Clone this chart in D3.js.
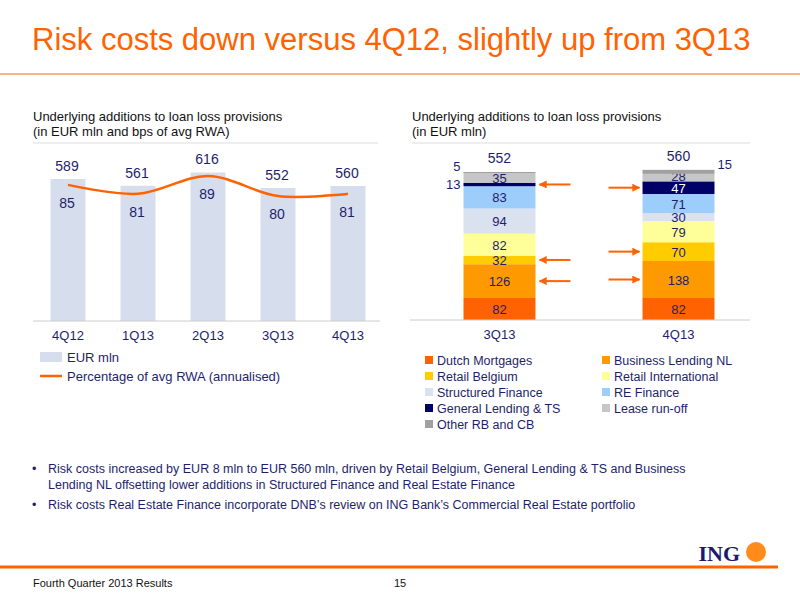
<!DOCTYPE html>
<html><head><meta charset="utf-8">
<script src="https://cdn.jsdelivr.net/npm/d3@7"></script>
<style>body{margin:0;background:#fff}svg{font-family:"Liberation Sans",Arial,sans-serif}</style>
</head><body><div id="chart"></div>
<script>
const quarters = ["4Q12", "1Q13", "2Q13", "3Q13", "4Q13"];
const eurMln = [589, 561, 616, 552, 560];
const bps = [85, 81, 89, 80, 81];

const periods = ["3Q13", "4Q13"];
const segments = ["Dutch Mortgages", "Business Lending NL", "Retail Belgium", "Retail International",
  "Structured Finance", "RE Finance", "General Lending & TS", "Lease run-off", "Other RB and CB"];
const seg3Q13 = [82, 126, 32, 82, 94, 83, 13, 35, 5];
const seg4Q13 = [82, 138, 70, 79, 30, 71, 47, 28, 15];
const totals = [552, 560];
const segColors = ["#ff6200", "#ff9900", "#ffcc00", "#ffff99", "#dae1ef", "#9dcdfa", "#000066", "#c6c6c6", "#a0a0a0"];
const arrowSegs = [6, 2, 1];

const svg = d3.select("#chart").append("svg").attr("width", 800).attr("height", 600);
const orange = "#ff6200", navy = "#1e1e6e";

svg.append("text").attr("x", 32).attr("y", 50).attr("fill", orange)
  .style("font-size", "31px").text("Risk costs down versus 4Q12, slightly up from 3Q13");
svg.append("line").attr("x1", 0).attr("x2", 800).attr("y1", 74).attr("y2", 74)
  .attr("stroke", orange).attr("stroke-width", 1);

// panel titles
[[33, "Underlying additions to loan loss provisions", "(in EUR mln and bps of avg RWA)"],
 [412, "Underlying additions to loan loss provisions", "(in EUR mln)"]].forEach(([x, a, b]) => {
  const t = svg.append("text").attr("x", x).attr("y", 121).attr("fill", "#111").style("font-size", "13px");
  t.append("tspan").attr("x", x).text(a);
  t.append("tspan").attr("x", x).attr("dy", 15).text(b);
});
svg.append("line").attr("x1", 33).attr("x2", 378).attr("y1", 143).attr("y2", 143).attr("stroke", "#ddd");
svg.append("line").attr("x1", 412).attr("x2", 750).attr("y1", 143).attr("y2", 143).attr("stroke", "#ddd");

// left chart
const xL = d3.scaleBand().domain(quarters).range([33, 383]).paddingInner(0.5).paddingOuter(0.25);
const yL = d3.scaleLinear().domain([0, 589]).range([321, 179]);
const yB = d3.scaleLinear().domain([80, 89]).range([196, 176]);
const gl = svg.append("g");
gl.selectAll("rect").data(quarters).join("rect")
  .attr("x", d => xL(d)).attr("width", xL.bandwidth())
  .attr("y", (d, i) => yL(eurMln[i])).attr("height", (d, i) => yL(0) - yL(eurMln[i]))
  .attr("fill", "#d6deee");
gl.selectAll(".tv").data(quarters).join("text")
  .attr("x", d => xL(d) + xL.bandwidth() / 2 - 1).attr("y", (d, i) => yL(eurMln[i]) - 8)
  .attr("text-anchor", "middle").attr("fill", navy).style("font-size", "14px").text((d, i) => eurMln[i]);
const line = d3.line().x((d, i) => xL(quarters[i]) + xL.bandwidth() / 2).y(d => yB(d)).curve(d3.curveCatmullRom);
gl.append("path").attr("d", line(bps)).attr("fill", "none").attr("stroke", orange).attr("stroke-width", 2.5);
gl.selectAll(".bv").data(bps).join("text")
  .attr("x", (d, i) => xL(quarters[i]) + xL.bandwidth() / 2 - 1).attr("y", d => yB(d) + 23)
  .attr("text-anchor", "middle").attr("fill", navy).style("font-size", "14px").text(d => d);
gl.append("g").attr("transform", "translate(0,321)")
  .call(d3.axisBottom(xL).tickSize(0).tickPadding(10))
  .call(g => g.select(".domain").attr("stroke", "#ccc").attr("d", "M33,0H380"))
  .call(g => g.selectAll("text").attr("fill", navy).style("font-size", "13px").attr("font-family", "Liberation Sans, Arial"));
svg.append("rect").attr("x", 40).attr("y", 352).attr("width", 22).attr("height", 10).attr("fill", "#d6deee");
svg.append("text").attr("x", 67).attr("y", 362).attr("fill", navy).style("font-size", "13px").text("EUR mln");
svg.append("line").attr("x1", 40).attr("x2", 62).attr("y1", 376).attr("y2", 376).attr("stroke", orange).attr("stroke-width", 2.5);
svg.append("text").attr("x", 67).attr("y", 381).attr("fill", navy).style("font-size", "13px").text("Percentage of avg RWA (annualised)");

// right chart
const xR = d3.scaleBand().domain(periods).range([420, 758]).paddingInner(0.598).paddingOuter(0.243);
const yR = d3.scaleLinear().domain([0, 552]).range([320, 172]);
const gr = svg.append("g");
const data = [seg3Q13, seg4Q13];
data.forEach((vals, p) => {
  let acc = 0;
  const x0 = xR(periods[p]), w = xR.bandwidth();
  vals.forEach((v, s) => {
    const y0 = yR(acc + v), h = yR(acc) - yR(acc + v);
    gr.append("rect").attr("x", x0).attr("y", y0).attr("width", w).attr("height", h).attr("fill", segColors[s]);
    if (v >= 20) {
      const lift = v < 30 ? 2 : 0;
      gr.append("text").attr("x", x0 + w / 2).attr("y", y0 + h / 2 + 5 - lift).attr("text-anchor", "middle")
        .attr("fill", s === 6 ? "#fff" : navy).style("font-size", "13px").text(v);
    } else if (p === 0) {
      gr.append("text").attr("x", x0 - 3).attr("y", s === 8 ? y0 - 1 : y0 + h / 2 + 5)
        .attr("text-anchor", "end").attr("fill", navy).style("font-size", "13px").text(v);
    } else {
      gr.append("text").attr("x", x0 + w + 3).attr("y", y0 - 1)
        .attr("text-anchor", "start").attr("fill", navy).style("font-size", "13px").text(v);
    }
    acc += v;
  });
  gr.append("text").attr("x", x0 + w / 2).attr("y", yR(totals[p]) - 9).attr("text-anchor", "middle")
    .attr("fill", navy).style("font-size", "14px").text(totals[p]);
});
// arrows
svg.append("defs").append("marker").attr("id", "ah").attr("viewBox", "0 0 10 10").attr("refX", 9).attr("refY", 5)
  .attr("markerWidth", 4).attr("markerHeight", 4).attr("orient", "auto")
  .append("path").attr("d", "M0,0L10,5L0,10z").attr("fill", orange);
arrowSegs.forEach(s => {
  data.forEach((vals, p) => {
    const yy = yR(d3.sum(vals.slice(0, s)) + vals[s] / 2);
    const x0 = xR(periods[p]), w = xR.bandwidth();
    const pts = p === 0 ? [x0 + w + 35, x0 + w + 4] : [x0 - 34, x0 - 3];
    gr.append("line").attr("x1", pts[0]).attr("x2", pts[1]).attr("y1", yy).attr("y2", yy)
      .attr("stroke", orange).attr("stroke-width", 2).attr("marker-end", "url(#ah)");
  });
});
gr.append("g").attr("transform", "translate(0,320)")
  .call(d3.axisBottom(xR).tickSize(0).tickPadding(10))
  .call(g => g.select(".domain").attr("stroke", "#ccc").attr("d", "M410,0H750"))
  .call(g => g.selectAll("text").attr("fill", navy).style("font-size", "13px").attr("font-family", "Liberation Sans, Arial"));
segments.forEach((name, i) => {
  const col = i % 2, row = Math.floor(i / 2);
  const x = col === 0 ? 425 : 602, y = 361 + row * 16;
  svg.append("rect").attr("x", x).attr("y", y - 5).attr("width", 8).attr("height", 8).attr("fill", segColors[i]);
  svg.append("text").attr("x", x + 12).attr("y", y + 4).attr("fill", navy).style("font-size", "12.5px").text(name);
});

// bullets
const b1 = svg.append("text").attr("fill", navy).style("font-size", "12.5px");
b1.append("tspan").attr("x", 32).attr("y", 473).text("•");
b1.append("tspan").attr("x", 48).attr("y", 473).text("Risk costs increased by EUR 8 mln to EUR 560 mln, driven by Retail Belgium, General Lending & TS and Business");
b1.append("tspan").attr("x", 48).attr("y", 489).text("Lending NL offsetting lower additions in Structured Finance and Real Estate Finance");
const b2 = svg.append("text").attr("fill", navy).style("font-size", "12.5px");
b2.append("tspan").attr("x", 32).attr("y", 509).text("•");
b2.append("tspan").attr("x", 48).attr("y", 509).text("Risk costs Real Estate Finance incorporate DNB’s review on ING Bank’s Commercial Real Estate portfolio");

// logo & footer
svg.append("text").attr("x", 740).attr("y", 561).attr("text-anchor", "end").attr("fill", "#1a1a6e")
  .attr("font-family", "Liberation Serif, serif").attr("font-weight", "bold").style("font-size", "22px").text("ING");
svg.append("circle").attr("cx", 756).attr("cy", 552).attr("r", 10).attr("fill", "#ff8c1a");
svg.append("line").attr("x1", 0).attr("x2", 778).attr("y1", 567).attr("y2", 567).attr("stroke", orange).attr("stroke-width", 3);
svg.append("text").attr("x", 33).attr("y", 587).attr("fill", "#111").style("font-size", "11px").text("Fourth Quarter 2013 Results");
svg.append("text").attr("x", 400).attr("y", 587).attr("text-anchor", "middle").attr("fill", "#111").style("font-size", "11px").text("15");
</script></body></html>
